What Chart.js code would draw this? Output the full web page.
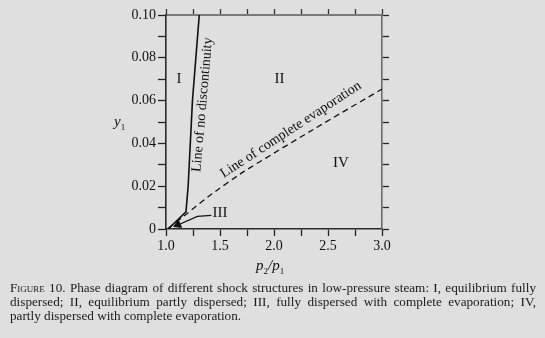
<!DOCTYPE html>
<html>
<head>
<meta charset="utf-8">
<script src="https://cdn.jsdelivr.net/npm/chart.js@4.4.1/dist/chart.umd.min.js"></script>
<style>
  body { margin: 0; background: #dfdfdf; }
  #wrap { position: relative; width: 545px; height: 338px; overflow: hidden; }
  #myChart { position: absolute; left: 0; top: 0; }
  .lab { position: absolute; font-family: "Liberation Serif", serif; color: #111; }
  .cap { position: absolute; left: 10px; width: 526px; font-family: "Liberation Serif", serif;
         font-size: 13.2px; color: #1a1a1a; white-space: nowrap; }
  .just { text-align: justify; text-align-last: justify; white-space: normal; }
  .sc { font-variant: small-caps; }
</style>
</head>
<body>
<div id="wrap">
  <canvas id="myChart" width="545" height="338"></canvas>
  <div class="lab" style="left:114px; top:113px; font-size:15px; font-style:italic;">y<sub style="font-size:9px; font-style:normal;">1</sub></div>
  <div class="lab" style="left:256px; top:257px; font-size:15px; font-style:italic;">p<sub style="font-size:9px; font-style:normal;">2</sub>/p<sub style="font-size:9px; font-style:normal;">1</sub></div>
  <div class="cap just" style="top:280px;"><span class="sc">Figure</span> 10. Phase diagram of different shock structures in low-pressure steam: I, equilibrium fully</div>
  <div class="cap just" style="top:294px;">dispersed; II, equilibrium partly dispersed; III, fully dispersed with complete evaporation; IV,</div>
  <div class="cap" style="top:308px;">partly dispersed with complete evaporation.</div>
</div>
<script>
// line of no discontinuity (solid)
var noDiscX = [1.02, 1.185, 1.205, 1.245, 1.308];
var noDiscY = [0.0, 0.008, 0.020, 0.060, 0.100];
// line of complete evaporation (dashed)
var evapX = [1.02, 1.20, 1.39, 1.72, 2.36, 3.00];
var evapY = [0.0003, 0.0074, 0.0151, 0.0268, 0.0464, 0.0654];
// leader line from the "III" label
var leaderX = [1.42, 1.29, 1.09];
var leaderY = [0.0064, 0.0059, 0.0014];
var xTickLabels = [1.0, 1.5, 2.0, 2.5, 3.0];
var yTickLabels = [0, 0.02, 0.04, 0.06, 0.08, 0.10];

function pts(xs, ys) {
  return xs.map(function(x, i) { return {x: x, y: ys[i]}; });
}

var regionLabels = [
  {text: 'I', x: 1.12, y: 0.070, rot: 0, size: 15},
  {text: 'II', x: 2.05, y: 0.070, rot: 0, size: 15},
  {text: 'III', x: 1.50, y: 0.0074, rot: 0, size: 15},
  {text: 'IV', x: 2.62, y: 0.031, rot: 0, size: 15},
  {text: 'Line of no discontinuity', x: 1.338, y: 0.0581, rot: -85, size: 14},
  {text: 'Line of complete evaporation', x: 2.157, y: 0.0464, rot: -33.2, size: 14}
];

var textPlugin = {
  id: 'regionText',
  afterDatasetsDraw: function(chart) {
    var c = chart.ctx, xs = chart.scales.x, ys = chart.scales.y;
    regionLabels.forEach(function(l) {
      c.save();
      c.translate(xs.getPixelForValue(l.x), ys.getPixelForValue(l.y));
      c.rotate(l.rot * Math.PI / 180);
      c.font = l.size + 'px "Liberation Serif"';
      c.fillStyle = '#111';
      c.textAlign = 'center';
      c.textBaseline = 'middle';
      c.fillText(l.text, 0, 0);
      c.restore();
    });
  }
};

var tickFont = {family: 'Liberation Serif', size: 14};

var ctx = document.getElementById('myChart').getContext('2d');
var myChart = new Chart(ctx, {
  type: 'scatter',
  data: {
    datasets: [
      {data: pts(noDiscX, noDiscY), showLine: true, borderColor: '#111', borderWidth: 1.6, pointRadius: 0, tension: 0},
      {data: pts(evapX, evapY), showLine: true, borderColor: '#111', borderWidth: 1.3, borderDash: [6, 4], pointRadius: 0, tension: 0.2},
      {data: pts(leaderX, leaderY), showLine: true, borderColor: '#111', borderWidth: 1.2, pointRadius: 0, tension: 0},
      {data: [{x: 1.11, y: 0.0020}], pointStyle: 'triangle', pointRadius: 4.5, pointRotation: 246,
       backgroundColor: '#111', borderColor: '#111', borderWidth: 1}
    ]
  },
  options: {
    responsive: false,
    devicePixelRatio: 1,
    animation: false,
    layout: {padding: 0},
    plugins: {legend: {display: false}, tooltip: {enabled: false}},
    scales: {
      x: {
        type: 'linear', position: 'bottom', min: 1, max: 3,
        ticks: {
          stepSize: 0.25, font: tickFont, color: '#111', padding: 2, maxRotation: 0, autoSkip: false,
          callback: function(v) {
            var k = Math.round(v * 4);
            return k % 2 === 0 ? (k / 4).toFixed(1) : '';
          }
        },
        grid: {drawOnChartArea: false, tickLength: 7, tickColor: '#222', tickWidth: 1.3},
        border: {color: '#2a2a2a', width: 1.6},
        afterFit: function(s) { s.height = 109; }
      },
      x2: {
        type: 'linear', position: 'top', min: 1, max: 3,
        ticks: {stepSize: 0.25, display: false},
        grid: {drawOnChartArea: false, tickLength: 6, tickColor: '#333', tickWidth: 1.3},
        border: {color: '#7a7a7a', width: 2},
        afterFit: function(s) { s.height = 15; }
      },
      y: {
        type: 'linear', position: 'left', min: 0, max: 0.1,
        ticks: {
          stepSize: 0.01, font: tickFont, color: '#111', padding: 2, autoSkip: false,
          callback: function(v) {
            var k = Math.round(v * 100);
            if (k % 2 !== 0) return '';
            return k === 0 ? '0' : (k / 100).toFixed(2);
          }
        },
        grid: {drawOnChartArea: false, tickLength: 8, tickColor: '#222', tickWidth: 1.3},
        border: {color: '#2a2a2a', width: 1.6},
        afterFit: function(s) { s.width = 166; }
      },
      y2: {
        type: 'linear', position: 'right', min: 0, max: 0.1,
        ticks: {stepSize: 0.01, display: false},
        grid: {drawOnChartArea: false, tickLength: 7, tickColor: '#222', tickWidth: 1.3},
        border: {color: '#6a6a6a', width: 1.6},
        afterFit: function(s) { s.width = 163; }
      }
    }
  },
  plugins: [textPlugin]
});
</script>
</body>
</html>
